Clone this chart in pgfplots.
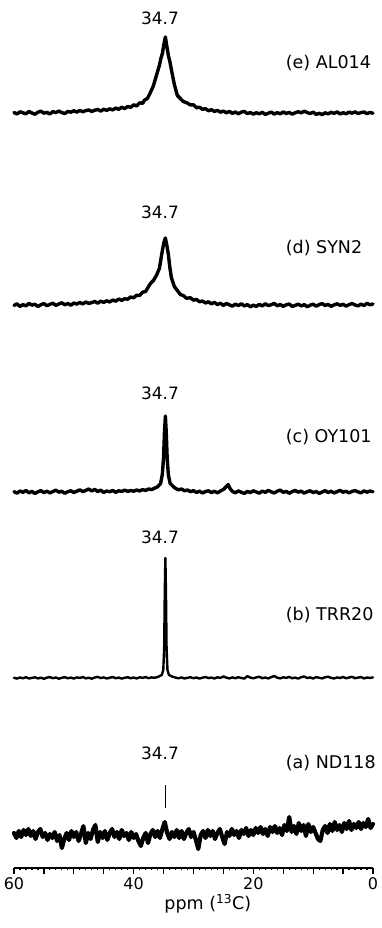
\documentclass[border=0pt]{standalone}
\usepackage{fontspec}
\setmainfont{DejaVu Sans}
\usepackage{pgfplots}
\pgfplotsset{compat=1.18}
\newcommand\lf{\fontsize{17.5}{20}\selectfont}
\newcommand\pf{\fontsize{17}{20}\selectfont}
\newcommand\tf{\fontsize{16}{19}\selectfont}
\begin{document}
\begin{tikzpicture}
\useasboundingbox (-14pt,-60pt) rectangle (367pt,868pt);
\begin{axis}[
  scale only axis, width=359pt, height=868pt,
  xmin=0, xmax=60, x dir=reverse, ymin=0, ymax=868,
  axis x line=bottom, x axis line style={-, line width=1.3pt},
  hide y axis,
  clip=false,
  tick align=outside,
  major tick length=6pt, minor tick length=2.5pt,
  every tick/.style={black, line width=1.2pt},
  xtick={0,5,...,60},
  xticklabels={0,,,,20,,,,40,,,,60},
  minor x tick num=4,
  xticklabel style={font=\tf},
  /pgf/number format/assume math mode=true,
  spec/.style={black, line width=3.4pt, line join=round, line cap=round, mark=none},
]
% (e) AL014
\addplot[spec] table[y expr=\thisrow{y}+755] {
x y
60 0.5
59.5 -1.0
59 1.2
58.5 0.2
58 -0.8
57.5 1.5
57 0.0
56.5 -1.3
56 0.8
55.5 1.8
55 -0.2
54.5 0.6
54 -1.0
53.5 1.4
53 0.3
52.5 2.0
52 0.4
51.5 -0.5
51 1.6
50.5 0.8
50 2.2
49.5 0.9
49 2.6
48.5 1.2
48 2.4
47.5 3.0
47 1.5
46.5 2.8
46 3.4
45.5 1.9
45 3.8
44.5 2.6
44 4.2
43.5 3.0
43 5.0
42.5 3.6
42 5.8
41.5 4.4
41 6.5
40.5 5.6
40 8.2
39.5 7.0
39 10.2
38.5 9.6
38.2 12.8
37.7 14.5
37.2 20.5
36.7 27.2
36.2 37.5
35.7 47.5
35.45 54.5
35.2 59.5
34.95 68.5
34.7 76
34.45 66.5
34.2 57.5
33.95 51.5
33.7 43.5
33.2 28.5
32.7 17.5
32.2 14.5
31.7 11.5
31.2 10.5
30.5 8.0
30 8.2
29.5 5.2
29 5.8
28.5 3.6
28 4.4
27.5 2.2
27 3.3
26.5 1.5
26 2.6
25.5 0.8
25 1.9
24.5 0.2
24 1.6
23.5 -0.4
23 1.0
22.5 -0.8
22 0.9
21.5 1.5
21 -0.6
20.5 0.5
20 -1.2
19.5 0.3
19 -0.9
18.5 0.8
18 -1.5
17.5 -0.2
17 0.9
16.5 -1.1
16 0.4
15.5 -0.8
15 1.0
14.5 -0.5
14 0.6
13.5 -1.2
13 0.2
12.5 1.3
12 0.1
11.5 1.8
11 0.5
10.5 -0.6
10 0.9
9.5 -1.4
9 -0.3
8.5 -1.6
8 0.2
7.5 -0.9
7 0.7
6.5 -0.4
6 1.1
5.5 -1.0
5 0.3
4.5 -0.8
4 0.9
3.5 -0.2
3 1.2
2.5 -0.6
2 0.4
1.5 1.0
1 -0.7
0.5 0.6
0 -0.3
};
% (d) SYN2
\addplot[spec] table[y expr=\thisrow{y}+563] {
x y
60 -0.5
59.5 1.2
59 -1.5
58.5 0.4
58 -0.9
57.5 1.6
57 -0.2
56.5 0.8
56 -1.6
55.5 0.3
55 1.4
54.5 -0.7
54 0.6
53.5 1.8
53 -0.4
52.5 1.0
52 2.2
51.5 0.2
51 1.5
50.5 -0.3
50 2.0
49.5 0.9
49 2.5
48.5 1.0
48 3.0
47.5 1.6
47 2.4
46.5 3.5
46 1.8
45.5 3.9
45 2.6
44.5 4.2
44 3.0
43.5 5.0
43 3.8
42.5 6.0
42 4.6
41.5 6.2
41 5.8
40.5 8.0
40 7.2
39.5 9.8
39 9.5
38.5 12.8
38 13.5
37.7 16.5
37.2 21.5
36.7 24.5
36.2 29.5
35.7 36.5
35.45 45.5
35.2 54.5
34.95 62.5
34.7 67
34.45 59.5
34.2 50.5
33.95 37.5
33.7 27.5
33.2 18.5
32.7 14.5
32.2 10.5
31.7 9.5
31.2 6.8
30.5 7.2
30 4.8
29.5 5.6
29 3.2
28.5 4.0
28 2.0
27.5 3.2
27 1.2
26.5 2.6
26 0.4
25.5 1.8
25 -0.4
24.5 1.5
24 0.2
23.5 -1.2
23 0.8
22.5 -0.6
22 1.3
21.5 -1.0
21 0.4
20.5 -1.8
20 -0.2
19.5 -1.4
19 0.6
18.5 -0.9
18 1.2
17.5 -0.6
17 0.3
16.5 1.6
16 -0.8
15.5 0.5
15 -1.3
14.5 0.2
14 1.0
13.5 -1.5
13 -0.4
12.5 0.9
12 -1.0
11.5 0.4
11 -1.7
10.5 -0.2
10 0.8
9.5 -1.2
9 0.3
8.5 1.4
8 -0.5
7.5 0.6
7 -1.3
6.5 0.1
6 1.2
5.5 -0.4
5 0.7
4.5 -1.1
4 0.3
3.5 1.5
3 0.0
2.5 -0.9
2 0.8
1.5 -0.5
1 1.6
0.5 0.2
0 1.0
};
% (c) OY101
\addplot[spec] table[y expr=\thisrow{y}+376] {
x y
60 0.4
59.5 -1.2
59 1.0
58.5 -0.3
58 1.5
57.5 -0.8
57 0.6
56.5 -1.5
56 0.2
55.5 1.3
55 -0.6
54.5 0.9
54 -1.0
53.5 0.5
53 1.8
52.5 -0.2
52 0.7
51.5 -1.3
51 0.4
50.5 1.2
50 -0.5
49.5 0.8
49 2.2
48.5 0.3
48 1.6
47.5 3.0
47 1.0
46.5 2.6
46 0.5
45.5 1.8
45 -0.4
44.5 1.0
44 0.2
43.5 1.5
43 -0.3
42.5 1.2
42 0.5
41.5 1.9
41 0.6
40.5 1.4
40 0.8
39.5 2.0
39 1.0
38.5 2.4
38 1.6
37.5 3.0
37 2.4
36.5 3.8
36 5.2
35.5 8.5
35.2 18
35.0 35
34.85 60
34.7 76
34.55 59
34.4 34
34.2 17
33.9 8.5
33.4 5.5
33 3.6
32.5 2.2
32 3.0
31.5 1.2
31 2.0
30.5 0.3
30 1.4
29.5 -0.5
29 0.8
28.5 -1.0
28 0.5
27.5 1.2
27 -0.6
26.5 0.7
26 -0.8
25.5 1.0
25 2.5
24.5 5.5
24.2 7.5
23.9 3.5
23.5 0.6
23 -0.8
22.5 1.1
22 -0.3
21.5 -1.4
21 0.6
20.5 -0.5
20 1.2
19.5 0.0
19 -1.2
18.5 0.9
18 -0.4
17.5 1.6
17 0.2
16.5 -1.0
16 0.8
15.5 1.9
15 -0.3
14.5 0.6
14 -1.3
13.5 0.4
13 1.5
12.5 -0.2
12 0.9
11.5 -1.1
11 0.3
10.5 1.2
10 -0.6
9.5 0.5
9 -1.4
8.5 0.0
8 1.3
7.5 -0.5
7 0.8
6.5 -1.0
6 0.4
5.5 1.6
5 -0.2
4.5 0.7
4 -0.9
3.5 0.6
3 1.4
2.5 0.1
2 -0.8
1.5 1.1
1 -0.2
0.5 0.9
0 0.3
};
% (b) TRR20
\addplot[spec, line width=2.4pt] table[y expr=\thisrow{y}+190] {
x y
60 0.2
59.5 -0.6
59 0.5
58.5 -0.3
58 0.8
57.5 -0.5
57 0.1
56.5 0.7
56 -0.4
55.5 0.3
55 -0.8
54.5 0.4
54 0.9
53.5 -0.2
53 0.5
52.5 -0.7
52 0.2
51.5 0.8
51 -0.3
50.5 0.4
50 -0.6
49.5 0.6
49 0.0
48.5 1.0
48 -0.4
47.5 0.3
47 -0.7
46.5 0.5
46 1.1
45.5 -0.1
45 0.6
44.5 -0.5
44 0.3
43.5 0.9
43 -0.2
42.5 0.4
42 -0.6
41.5 0.2
41 0.8
40.5 -0.3
40 0.5
39.5 -0.5
39 0.7
38.5 0.1
38 0.9
37.5 -0.2
37 0.6
36.5 0.2
36 1.0
35.8 1.5
35.3 3
35.05 8
34.9 30
34.8 85
34.7 120
34.6 85
34.5 30
34.35 8
34.1 3
33.6 1.5
33 0.4
32.5 -0.3
32 0.6
31.5 -0.5
31 0.2
30.5 0.8
30 -0.2
29.5 0.5
29 -0.6
28.5 0.3
28 1.0
27.5 -0.1
27 0.4
26.5 -0.5
26 0.7
25.5 0.1
25 1.6
24.5 0.3
24 -0.4
23.5 0.6
23 -0.2
22.5 0.8
22 0.0
21.5 -0.6
21 1.8
20.5 0.4
20 -0.3
19.5 0.6
19 1.2
18.5 -0.2
18 0.5
17.5 -0.5
17 0.9
16.5 2.0
16 0.3
15.5 -0.4
15 0.7
14.5 0.1
14 1.1
13.5 -0.3
13 0.4
12.5 -0.6
12 0.8
11.5 1.5
11 0.0
10.5 0.6
10 -0.5
9.5 0.9
9 0.2
8.5 -0.4
8 0.7
7.5 1.3
7 0.1
6.5 -0.5
6 0.6
5.5 0.0
5 1.0
4.5 -0.3
4 0.5
3.5 1.2
3 -0.2
2.5 0.4
2 0.9
1.5 -0.4
1 0.5
0.5 0.1
0 0.6
};
% (a) ND118
\addplot[spec, line width=4.2pt] table[y expr=\thisrow{y}+33] {
x y
60.0 2
59.6 -3
59.2 4
58.8 -2
58.4 5
58.0 0
57.6 6
57.2 -1
56.8 4
56.4 -4
56.0 3
55.6 6
55.2 -2
54.8 2
54.4 -5
54.0 1
53.6 -3
53.2 3
52.8 -6
52.4 0
52.0 -13
51.6 -4
51.2 2
50.8 -5
50.4 4
50.0 -2
49.6 3
49.2 -6
48.8 1
48.4 9
48.0 -8
47.6 2
47.2 -4
46.8 5
46.4 10
46.0 -7
45.6 3
45.2 -3
44.8 4
44.4 -5
44.0 2
43.6 6
43.2 -2
42.8 3
42.4 -4
42.0 5
41.6 -1
41.2 2
40.8 -5
40.4 3
40.0 -3
39.6 1
39.2 -6
38.8 -11
38.4 -3
38.0 2
37.6 -8
37.2 1
36.8 5
36.4 -2
36.0 4
35.6 -3
35.2 6
34.8 13
34.4 2
34.0 -4
33.6 3
33.2 -2
32.8 5
32.4 -3
32.0 4
31.6 -4
31.2 2
30.8 6
30.4 -2
30.0 3
29.6 -5
29.2 -14
28.8 0
28.4 4
28.0 -3
27.6 5
27.2 -1
26.8 4
26.4 -4
26.0 2
25.6 6
25.2 -2
24.8 -9
24.4 3
24.0 -1
23.6 6
23.2 0
22.8 4
22.4 -3
22.0 5
21.6 1
21.2 7
20.8 -1
20.4 5
20.0 0
19.6 7
19.2 2
18.8 8
18.4 1
18.0 6
17.6 -1
17.2 8
16.8 3
16.4 9
16.0 2
15.6 7
15.2 0
14.8 10
14.4 4
14.0 18
13.6 3
13.2 9
12.8 1
12.4 12
12.0 4
11.6 10
11.2 -1
10.8 11
10.4 3
10.0 8
9.6 2
9.2 -4
8.8 -6
8.4 5
8.0 9
7.6 2
7.2 11
6.8 4
6.4 13
6.0 5
5.6 10
5.2 3
4.8 12
4.4 6
4.0 14
3.6 5
3.2 11
2.8 7
2.4 13
2.0 6
1.6 12
1.2 8
0.8 16
0.4 7
0.0 11
};
\addplot[black, line width=1pt] coordinates {(34.7,60) (34.7,83)};
% peak labels
\node[font=\pf] at (axis cs:35.6,850) {34.7};
\node[font=\pf] at (axis cs:35.6,656) {34.7};
\node[font=\pf] at (axis cs:35.6,475) {34.7};
\node[font=\pf] at (axis cs:35.6,331) {34.7};
\node[font=\pf] at (axis cs:35.6,115) {34.7};
% sample labels
\node[font=\lf, anchor=west, inner sep=0pt] at (axis cs:14.6,805) {(e) AL014};
\node[font=\lf, anchor=west, inner sep=0pt] at (axis cs:14.6,620) {(d) SYN2};
\node[font=\lf, anchor=west, inner sep=0pt] at (axis cs:14.6,431) {(c) OY101};
\node[font=\lf, anchor=west, inner sep=0pt] at (axis cs:14.6,253) {(b) TRR20};
\node[font=\lf, anchor=west, inner sep=0pt] at (axis cs:14.6,105) {(a) ND118};
% x label
\node[font=\lf] at (axis cs:27.6,-36) {ppm (\textsuperscript{13}C)};
\end{axis}
\end{tikzpicture}
\end{document}
